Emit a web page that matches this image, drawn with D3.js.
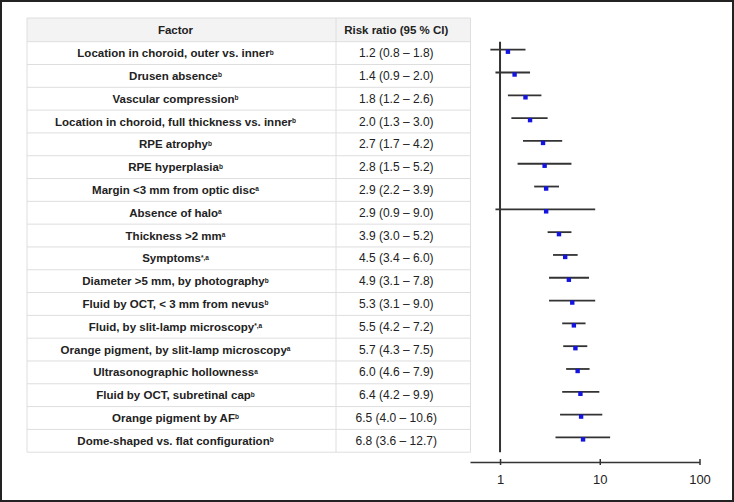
<!DOCTYPE html>
<html>
<head>
<meta charset="utf-8">
<script src="https://cdn.jsdelivr.net/npm/d3@7"></script>
<style>
    body { margin: 0; background: #fff; }
    text { font-family: "Liberation Sans", Arial, sans-serif; }
</style>
</head>
<body>
<div id="forest"></div>
<script>
var factors = [
    "Location in choroid, outer vs. inner",
    "Drusen absence",
    "Vascular compression",
    "Location in choroid, full thickness vs. inner",
    "RPE atrophy",
    "RPE hyperplasia",
    "Margin <3 mm from optic disc",
    "Absence of halo",
    "Thickness >2 mm",
    "Symptoms",
    "Diameter >5 mm, by photography",
    "Fluid by OCT, < 3 mm from nevus",
    "Fluid, by slit-lamp microscopy",
    "Orange pigment, by slit-lamp microscopy",
    "Ultrasonographic hollowness",
    "Fluid by OCT, subretinal cap",
    "Orange pigment by AF",
    "Dome-shaped vs. flat configuration"
];
var notes = ["b", "b", "b", "b", "b", "b", "a", "a", "a", "*,a", "b", "b", "*,a", "a", "a", "b", "b", "b"];
var ratio = [1.2, 1.4, 1.8, 2.0, 2.7, 2.8, 2.9, 2.9, 3.9, 4.5, 4.9, 5.3, 5.5, 5.7, 6.0, 6.4, 6.5, 6.8];
var ci_low = [0.8, 0.9, 1.2, 1.3, 1.7, 1.5, 2.2, 0.9, 3.0, 3.4, 3.1, 3.1, 4.2, 4.3, 4.6, 4.2, 4.0, 3.6];
var ci_high = [1.8, 2.0, 2.6, 3.0, 4.2, 5.2, 3.9, 9.0, 5.2, 6.0, 7.8, 9.0, 7.2, 7.5, 7.9, 9.9, 10.6, 12.7];
var axis_ticks = [1, 10, 100];
var headers = ["Factor", "Risk ratio (95 % CI)"];

var width = 734, height = 502;
var table = {left: 27, mid: 336, right: 470.5, top: 18, head: 41.7, bottom: 452.2};

var svg = d3.select('#forest')
    .append('svg')
    .attr('width', width)
    .attr('height', height);

svg.append('rect')
    .attr('x', 1)
    .attr('y', 1)
    .attr('width', width - 2)
    .attr('height', height - 2)
    .attr('fill', '#fff')
    .attr('stroke', '#222')
    .attr('stroke-width', 2);

var y = d3.scaleBand()
    .domain(factors)
    .range([table.head, table.bottom]);

var x = d3.scaleLog()
    .domain([0.5, 100])
    .range([470, 699.5]);

// header
svg.append('rect')
    .attr('x', table.left)
    .attr('y', table.top)
    .attr('width', table.right - table.left)
    .attr('height', table.head - table.top)
    .attr('fill', '#f3f3f3');

var fmt = d3.format(".1f");
function ciText(i){
    return fmt(ratio[i]) + " (" + fmt(ci_low[i]) + " \u2013 " + fmt(ci_high[i]) + ")";
}

// cell borders
var hlines = [table.top, table.head].concat(factors.map(function(d){ return y(d) + y.bandwidth(); }));
svg.selectAll('.hline')
    .data(hlines)
    .enter()
    .append('line')
    .attr('x1', table.left)
    .attr('x2', table.right)
    .attr('y1', function(d){ return d; })
    .attr('y2', function(d){ return d; })
    .attr('stroke', '#dedede')
    .attr('stroke-width', 1);

[table.left, table.mid, table.right].forEach(function(d){
    svg.append('line')
        .attr('x1', d)
        .attr('x2', d)
        .attr('y1', table.top)
        .attr('y2', table.bottom)
        .attr('stroke', '#dedede')
        .attr('stroke-width', 1);
});

var col_x = [(table.left + table.mid)/2 - 6, (table.mid + table.right)/2 - 7];
headers.forEach(function(h, i){
    svg.append('text')
        .attr('x', col_x[i])
        .attr('y', (table.top + table.head)/2)
        .attr('text-anchor', 'middle')
        .attr('dominant-baseline', 'central')
        .attr('font-size', '11.5px')
        .attr('font-weight', 'bold')
        .attr('fill', '#222')
        .text(h);
});

var rows = svg.selectAll('.row')
    .data(factors)
    .enter()
    .append('g')
    .attr('transform', function(d){ return 'translate(0,' + (y(d) + y.bandwidth()/2) + ')'; });

var label = rows.append('text')
    .attr('x', col_x[0])
    .attr('y', 0)
    .attr('text-anchor', 'middle')
    .attr('dominant-baseline', 'central')
    .attr('font-size', '11.5px')
    .attr('font-weight', 'bold')
    .attr('fill', '#222');
label.append('tspan').text(function(d){ return d; });
label.append('tspan')
    .attr('font-size', '6.5px')
    .attr('dy', -1.5)
    .text(function(d, i){ return notes[i]; });

rows.append('text')
    .attr('x', col_x[1])
    .attr('y', 0)
    .attr('text-anchor', 'middle')
    .attr('dominant-baseline', 'central')
    .attr('font-size', '12px')
    .attr('fill', '#222')
    .text(function(d, i){ return ciText(i); });

// reference line at 1
svg.append('line')
    .attr('x1', x(1))
    .attr('x2', x(1))
    .attr('y1', table.head)
    .attr('y2', table.bottom)
    .attr('stroke', '#333')
    .attr('stroke-width', 2);

rows.append('line')
    .attr('x1', function(d, i){ return x(ci_low[i]); })
    .attr('x2', function(d, i){ return x(ci_high[i]); })
    .attr('y1', -3.4)
    .attr('y2', -3.4)
    .attr('stroke', '#333')
    .attr('stroke-width', 1.8);

rows.append('rect')
    .attr('x', function(d, i){ return x(ratio[i]) - 2.2; })
    .attr('y', -3.6)
    .attr('width', 4.4)
    .attr('height', 4.4)
    .attr('fill', '#1414e0');

// axis
var axis = svg.append('g')
    .attr('transform', 'translate(0,462)')
    .call(d3.axisBottom(x)
        .tickValues(axis_ticks)
        .tickFormat(d3.format("d"))
        .tickSizeOuter(0));

axis.select('.domain')
    .attr('stroke', '#333')
    .attr('stroke-width', 1.5);
axis.selectAll('.tick line')
    .attr('y1', -3)
    .attr('y2', 3)
    .attr('stroke', '#333')
    .attr('stroke-width', 1.5);
axis.selectAll('.tick text')
    .attr('y', 17)
    .attr('dy', '0.35em')
    .attr('font-size', '13px')
    .attr('font-family', '"Liberation Sans", Arial, sans-serif')
    .attr('fill', '#222');
</script>
</body>
</html>
